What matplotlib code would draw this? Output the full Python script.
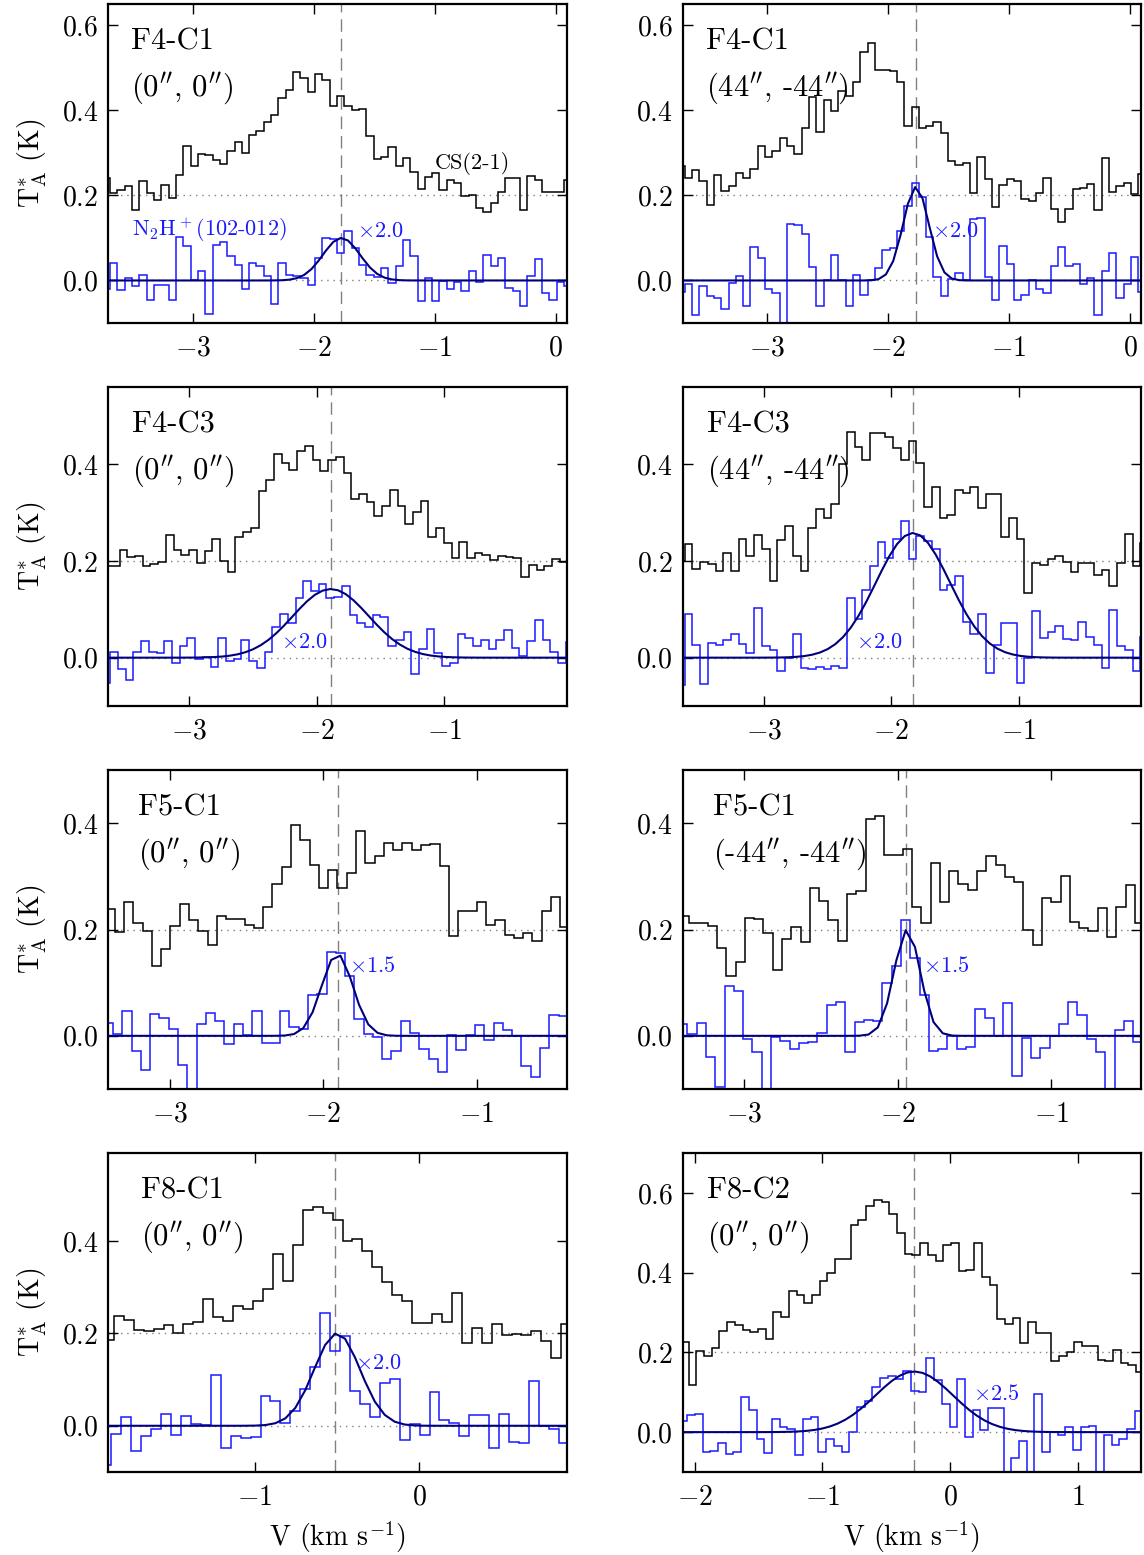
import numpy as np
import matplotlib
matplotlib.use('Agg')
import matplotlib.pyplot as plt
from matplotlib.ticker import MultipleLocator

plt.rcParams['font.family'] = 'serif'
plt.rcParams['font.serif'] = ['cmr10']
plt.rcParams['mathtext.fontset'] = 'cm'
plt.rcParams['axes.formatter.use_mathtext'] = True
plt.rcParams['axes.unicode_minus'] = True

DV = 0.0605  # channel width (km/s)

# CS(2-1) spectra, plotted shifted up by 0.2 K
cs_f4c1_a = [0.24, 0.205, 0.213, 0.223, 0.166, 0.234, 0.205, 0.19, 0.225, 0.194, 0.248, 0.315, 0.27, 0.298,
             0.294, 0.284, 0.274, 0.305, 0.326, 0.3, 0.342, 0.352, 0.373, 0.389, 0.428, 0.448, 0.49, 0.477,
             0.444, 0.485, 0.471, 0.41, 0.434, 0.41, 0.4, 0.402, 0.34, 0.285, 0.291, 0.313, 0.27, 0.288,
             0.254, 0.215, 0.243, 0.252, 0.212, 0.237, 0.23, 0.198, 0.202, 0.17, 0.16, 0.182, 0.209, 0.242,
             0.242, 0.166, 0.245, 0.237, 0.208, 0.208, 0.208, 0.237]
cs_f4c1_b = [0.268, 0.24, 0.26, 0.233, 0.178, 0.248, 0.211, 0.223, 0.252, 0.24, 0.262, 0.315, 0.291, 0.305,
             0.336, 0.315, 0.298, 0.359, 0.432, 0.348, 0.424, 0.399, 0.446, 0.434, 0.467, 0.5375, 0.559, 0.495,
             0.495, 0.493, 0.467, 0.362, 0.407, 0.358, 0.363, 0.372, 0.346, 0.282, 0.272, 0.276, 0.205, 0.291,
             0.239, 0.172, 0.225, 0.239, 0.233, 0.192, 0.1875, 0.205, 0.24, 0.169, 0.137, 0.168, 0.215, 0.217,
             0.227, 0.166, 0.289, 0.207, 0.223, 0.229, 0.203, 0.25]
cs_f4c3_a = [0.19, 0.19, 0.223, 0.208, 0.21, 0.19, 0.194, 0.198, 0.254, 0.223, 0.213, 0.223, 0.196, 0.22,
             0.245, 0.2, 0.177, 0.249, 0.26, 0.269, 0.345, 0.368, 0.421, 0.402, 0.388, 0.427, 0.438, 0.41,
             0.386, 0.409, 0.416, 0.383, 0.328, 0.339, 0.323, 0.294, 0.313, 0.346, 0.314, 0.276, 0.301, 0.324,
             0.249, 0.268, 0.238, 0.206, 0.239, 0.206, 0.216, 0.213, 0.203, 0.21, 0.208, 0.206, 0.167, 0.192,
             0.182, 0.19, 0.205, 0.198, 0.251]
cs_f4c3_b = [0.2, 0.235, 0.184, 0.198, 0.194, 0.18, 0.216, 0.18, 0.245, 0.211, 0.254, 0.225, 0.158, 0.244,
             0.273, 0.21, 0.179, 0.268, 0.307, 0.29, 0.318, 0.4, 0.467, 0.436, 0.408, 0.465, 0.464, 0.457,
             0.434, 0.41, 0.448, 0.403, 0.311, 0.353, 0.29, 0.296, 0.347, 0.34, 0.354, 0.309, 0.338, 0.339,
             0.249, 0.289, 0.246, 0.134, 0.196, 0.192, 0.205, 0.211, 0.198, 0.177, 0.195, 0.195, 0.172, 0.181,
             0.149, 0.196, 0.256, 0.19, 0.238]
cs_f5c1_a = [0.239, 0.196, 0.252, 0.213, 0.197, 0.132, 0.163, 0.207, 0.248, 0.217, 0.197, 0.17, 0.226, 0.22,
             0.22, 0.209, 0.202, 0.242, 0.286, 0.317, 0.397, 0.369, 0.322, 0.278, 0.311, 0.278, 0.306, 0.386,
             0.325, 0.339, 0.363, 0.35, 0.363, 0.349, 0.358, 0.361, 0.32, 0.188, 0.234, 0.235, 0.251, 0.208,
             0.218, 0.19, 0.184, 0.193, 0.178, 0.235, 0.261, 0.204, 0.2]
cs_f5c1_b = [0.226, 0.212, 0.212, 0.206, 0.166, 0.113, 0.138, 0.222, 0.22, 0.193, 0.124, 0.182, 0.205, 0.177,
             0.278, 0.254, 0.217, 0.178, 0.266, 0.272, 0.408, 0.414, 0.34, 0.34, 0.352, 0.242, 0.213, 0.325,
             0.252, 0.31, 0.286, 0.275, 0.31, 0.339, 0.322, 0.298, 0.289, 0.2, 0.171, 0.259, 0.251, 0.301,
             0.215, 0.202, 0.197, 0.24, 0.185, 0.242, 0.284, 0.212, 0.216]
cs_f8c1 = [0.186, 0.238, 0.229, 0.207, 0.204, 0.209, 0.218, 0.201, 0.22, 0.225, 0.274, 0.236, 0.227, 0.258,
           0.253, 0.27, 0.295, 0.371, 0.314, 0.391, 0.467, 0.474, 0.46, 0.444, 0.399, 0.404, 0.377, 0.343,
           0.31, 0.283, 0.27, 0.223, 0.222, 0.242, 0.225, 0.288, 0.178, 0.211, 0.178, 0.22, 0.196, 0.199,
           0.196, 0.206, 0.183, 0.146, 0.22]
cs_f8c2 = [0.227, 0.118, 0.204, 0.191, 0.212, 0.253, 0.275, 0.268, 0.256, 0.252, 0.258, 0.233, 0.302, 0.289,
           0.353, 0.343, 0.325, 0.343, 0.379, 0.399, 0.435, 0.435, 0.52, 0.533, 0.568, 0.583, 0.578, 0.548,
           0.5, 0.4475, 0.443, 0.474, 0.445, 0.429, 0.47, 0.475, 0.404, 0.406, 0.474, 0.389, 0.368, 0.2825,
           0.271, 0.285, 0.224, 0.277, 0.2475, 0.2475, 0.179, 0.192, 0.2, 0.227, 0.217, 0.216, 0.181, 0.179,
           0.206, 0.1725, 0.168, 0.15]

# N2H+(102-012) spectra, already multiplied by the scale factor
n2h_f4c1_a = [-0.02, 0.041, -0.023, 0.006, -0.013, 0.0125, -0.045, -0.01, -0.01, -0.045, 0.102, 0.08, 0.0,
              0.022, -0.08, 0.084, 0.09, 0.057, 0.036, -0.021, 0.04, 0.034, 0.01, -0.056, 0.04, 0.014, 0.01,
              0.006, -0.01, 0.053, 0.1, 0.098, 0.065, 0.116, 0.077, 0.0375, 0.012, 0.008, 0.03, -0.007, 0.035,
              0.096, 0.057, -0.048, 0.006, -0.048, -0.002, -0.021, -0.003, -0.025, 0.022, -0.004, 0.059, 0.034,
              0.053, -0.017, -0.025, -0.059, 0.01, 0.051, -0.029, -0.045, -0.004, -0.012]
n2h_f4c1_b = [-0.027, -0.009, -0.082, -0.013, -0.037, -0.041, -0.066, -0.007, 0.01, -0.059, 0.078, 0.052,
              -0.021, -0.03, -0.13, 0.133, 0.131, 0.109, 0.032, -0.06, 0.0, 0.059, 0.0, -0.059, 0.012, -0.033,
              0.0, 0.03, 0.071, 0.077, 0.117, 0.176, 0.23, 0.196, 0.102, 0.008, -0.037, 0.004, 0.018, 0.0,
              0.145, 0.147, 0.008, -0.045, 0.08, 0.039, -0.045, -0.033, 0.0, -0.021, -0.029, 0.035, 0.078,
              0.035, 0.039, -0.008, 0.006, -0.082, 0.023, 0.065, -0.041, -0.009, 0.055, -0.027]
n2h_f4c3_a = [-0.052, 0.012, -0.024, -0.046, 0.012, 0.034, 0.012, 0.01, 0.034, -0.01, 0.024, 0.04, -0.002,
              0.002, -0.019, 0.041, -0.007, -0.003, 0.036, -0.007, -0.021, 0.012, 0.063, 0.091, 0.071, 0.124,
              0.159, 0.137, 0.153, 0.124, 0.125, 0.149, 0.088, 0.071, 0.063, 0.088, 0.085, 0.024, 0.036, 0.053,
              -0.034, 0.017, 0.06, 0.01, -0.017, -0.012, 0.049, 0.04, 0.025, 0.036, 0.017, 0.036, 0.058, 0.021,
              0.003, 0.034, 0.077, 0.036, 0.012, -0.012, 0.032]
n2h_f4c3_b = [-0.057, 0.091, 0.027, -0.054, 0.031, 0.027, 0.036, 0.05, 0.029, 0.009, 0.103, 0.025, 0.015,
              -0.027, 0.0, 0.05, -0.021, -0.023, -0.019, -0.023, -0.017, -0.021, 0.124, 0.08, 0.139, 0.19,
              0.239, 0.206, 0.245, 0.282, 0.204, 0.251, 0.241, 0.225, 0.14, 0.15, 0.17, 0.074, 0.05, 0.091,
              -0.032, 0.027, 0.071, 0.072, -0.052, 0.0, 0.096, 0.04, 0.054, 0.065, 0.038, 0.036, 0.074, 0.043,
              0.027, -0.021, 0.098, 0.024, 0.015, -0.027, 0.043]
n2h_f5c1_a = [0.024, 0.003, 0.046, -0.028, -0.065, 0.042, 0.033, 0.0126, -0.055, -0.13, 0.022, 0.043, 0.028,
              -0.016, 0.023, 0.001, 0.046, -0.0126, -0.0126, 0.046, 0.016, 0.0126, 0.077, 0.078, 0.158, 0.156,
              0.112, 0.031, 0.003, -0.002, -0.043, -0.028, 0.028, 0.006, -0.024, -0.044, -0.068, 0.001, -0.026,
              0.002, 0.02, -0.008, 0.025, 0.011, -0.001, -0.057, -0.078, -0.022, 0.04, 0.038, -0.024]
n2h_f5c1_b = [0.022, 0.003, 0.024, -0.04, -0.097, 0.094, 0.085, -0.006, -0.03, -0.13, -0.003, -0.009, -0.025,
              -0.014, -0.011, 0.005, 0.058, 0.063, -0.031, 0.026, 0.03, 0.028, 0.099, 0.132, 0.218, 0.146,
              0.077, -0.028, -0.025, 0.0, -0.024, -0.021, 0.05, 0.033, 0.0, 0.061, -0.075, -0.005, -0.041,
              -0.023, 0.0, 0.022, 0.063, 0.039, -0.006, -0.03, -0.13, 0.011, 0.028, -0.011, 0.0126]
n2h_f8c1 = [-0.084, -0.017, 0.02, -0.055, -0.022, -0.008, 0.025, -0.02, 0.021, 0.0036, 0.0015, 0.11, -0.049,
            -0.022, -0.027, -0.024, 0.065, 0.053, 0.007, 0.032, 0.079, 0.128, 0.245, 0.162, 0.194, 0.076,
            0.047, 0.02, 0.092, 0.101, -0.031, 0.003, -0.02, 0.072, 0.012, 0.007, -0.022, 0.023, 0.023,
            -0.049, 0.025, -0.036, -0.038, 0.097, 0.0, -0.006, -0.038, -0.078]
n2h_f8c2 = [0.027, 0.043, 0.046, -0.05, -0.047, -0.0275, -0.055, -0.05, 0.087, 0.056, -0.017, -0.0525, 0.033,
            0.012, 0.0075, -0.058, 0.0325, 0.037, -0.05, -0.0175, -0.034, -0.05, 0.0, 0.062, 0.078, 0.112,
            0.135, 0.141, 0.1325, 0.153, 0.104, 0.1, 0.185, 0.131, 0.07, 0.014, 0.133, -0.011, 0.056, 0.006,
            0.06, 0.06, -0.13, -0.065, -0.022, -0.13, 0.096, -0.05, 0.0, -0.008, 0.014, -0.044, 0.0125, 0.016,
            -0.13, -0.007, -0.032, -0.017, 0.008, 0.052, -0.032]

# first channel edge of each spectrum (km/s)
cs_v0 = [-3.743, -3.743, -3.666, -3.679, -3.421, -3.421, -1.919, -2.110]
n2h_v0 = [-3.743, -3.743, -3.679, -3.679, -3.432, -3.432, -1.934, -2.121]

# Gaussian fits to N2H+: amplitude (scaled), centre, FWHM
fit_amp = [0.10, 0.22, 0.142, 0.258, 0.154, 0.20, 0.20, 0.152]
fit_cen = [-1.77, -1.77, -1.89, -1.83, -1.91, -1.94, -0.50, -0.28]
fit_fwhm = [0.36, 0.25, 0.70, 0.68, 0.24, 0.20, 0.33, 0.715]

vlsr = [-1.774, -1.774, -1.89, -1.83, -1.907, -1.946, -0.512, -0.283]
cores = ['F4-C1', 'F4-C1', 'F4-C3', 'F4-C3', 'F5-C1', 'F5-C1', 'F8-C1', 'F8-C2']
offsets = [(0, 0), (44, -44), (0, 0), (44, -44), (0, 0), (-44, -44), (0, 0), (0, 0)]
scales = ['2.0', '2.0', '2.0', '2.0', '1.5', '1.5', '2.0', '2.5']
scale_pos = [(-1.64, 0.115), (-1.64, 0.116), (-2.28, 0.032), (-2.28, 0.032),
             (-1.835, 0.132), (-1.835, 0.132), (-0.388, 0.135), (0.177, 0.095)]
xlims = [(-3.70, 0.09), (-3.70, 0.09), (-3.636, -0.043), (-3.636, -0.043),
         (-3.404, -0.416), (-3.404, -0.416), (-1.894, 0.896), (-2.097, 1.497)]
ylims = [(-0.1, 0.65), (-0.1, 0.65), (-0.1, 0.56), (-0.1, 0.56),
         (-0.1, 0.50), (-0.1, 0.50), (-0.1, 0.59), (-0.1, 0.70)]
label_x = [0.051, 0.051, 0.053, 0.053, 0.066, 0.066, 0.072, 0.053]

cs_all = [cs_f4c1_a, cs_f4c1_b, cs_f4c3_a, cs_f4c3_b, cs_f5c1_a, cs_f5c1_b, cs_f8c1, cs_f8c2]
n2h_all = [n2h_f4c1_a, n2h_f4c1_b, n2h_f4c3_a, n2h_f4c3_b, n2h_f5c1_a, n2h_f5c1_b, n2h_f8c1, n2h_f8c2]


def fmt_off(o):
    return r"(%d$^{\prime\prime}$, %d$^{\prime\prime}$)" % o


def draw_panel(ax, i):
    cs = np.array(cs_all[i])
    n2h = np.array(n2h_all[i])
    cs_edges = cs_v0[i] + DV * np.arange(len(cs) + 1)
    n2h_edges = n2h_v0[i] + DV * np.arange(len(n2h) + 1)

    ax.axhline(0.2, color='gray', ls=(0, (1, 3.5)), lw=1.0, zorder=1)
    ax.axhline(0.0, color='gray', ls=(0, (1, 3.5)), lw=1.0, zorder=1)
    ax.axvline(vlsr[i], color='gray', ls=(0, (9, 5)), lw=1.0, zorder=1)

    ax.stairs(cs, cs_edges, baseline=None, color='k', lw=1.1, zorder=2)
    ax.stairs(n2h, n2h_edges, baseline=None, color='#1a1aff', lw=1.1, zorder=2)

    # gaussian fit evaluated on the channel centres
    vc = 0.5 * (n2h_edges[1:] + n2h_edges[:-1])
    sig = fit_fwhm[i] / (2 * np.sqrt(2 * np.log(2)))
    ax.plot(vc, fit_amp[i] * np.exp(-0.5 * ((vc - fit_cen[i]) / sig) ** 2),
            color='#00007a', lw=1.5, zorder=3)

    ax.text(label_x[i], 0.882, cores[i], transform=ax.transAxes, fontsize=22, va='center')
    ax.text(label_x[i], 0.738, fmt_off(offsets[i]), transform=ax.transAxes, fontsize=22, va='center')
    sx, sy = scale_pos[i]
    ax.text(sx, sy, r"$\times$" + scales[i], color='#1a1aff', fontsize=16, va='center')

    ax.set_xlim(*xlims[i])
    ax.set_ylim(*ylims[i])
    ax.xaxis.set_major_locator(MultipleLocator(1))
    ax.yaxis.set_major_locator(MultipleLocator(0.2))
    ax.tick_params(direction='in', length=7, width=1.0, top=True, right=True, labelsize=20)
    ax.tick_params(axis='x', pad=9)
    ax.tick_params(axis='y', pad=7)
    for s in ax.spines.values():
        s.set_linewidth(1.6)


fig, axes = plt.subplots(4, 2, figsize=(11.44, 15.55), dpi=100)
plt.subplots_adjust(left=108 / 1144, right=1141 / 1144, top=1 - 4 / 1555, bottom=1 - 1472 / 1555,
                    wspace=116 / 458.5, hspace=64 / 319)

for i, ax in enumerate(axes.flat):
    draw_panel(ax, i)
    if i % 2 == 0:
        ax.set_ylabel(r"T$_{\rm A}^{*}$ (K)", fontsize=20, labelpad=9)
    if i >= 6:
        ax.set_xlabel(r"V (km s$^{-1}$)", fontsize=20, labelpad=6)

ax = axes[0, 0]
ax.text(-1.0, 0.276, "CS(2-1)", fontsize=16, va='center')
ax.text(-3.5, 0.12, r"N$_2$H$^+$(102-012)", color='#1a1aff', fontsize=16, va='center')

fig.savefig('out.png', dpi=100)
